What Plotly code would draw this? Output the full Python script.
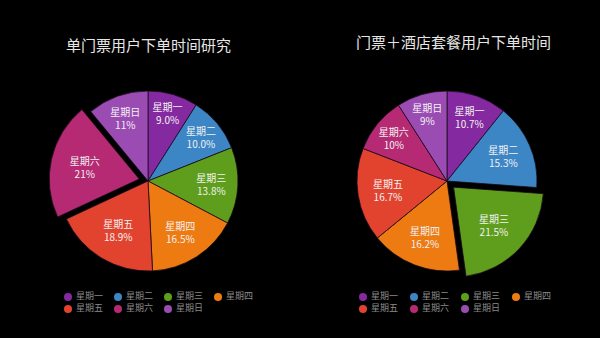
import plotly.graph_objects as go

days = ["星期一", "星期二", "星期三", "星期四", "星期五", "星期六", "星期日"]
colors = ["#8429A0", "#3D86C6", "#5E9E1C", "#EE7A12", "#E2432F", "#B52A72", "#9A4CB3"]

left_title = "单门票用户下单时间研究"
left_values = [9.0, 10.0, 13.8, 16.5, 18.9, 21, 11]
left_text = ["9.0%", "10.0%", "13.8%", "16.5%", "18.9%", "21%", "11%"]
left_pull = [0, 0, 0, 0, 0, 0.1, 0]

right_title = "门票＋酒店套餐用户下单时间"
right_values = [10.7, 15.3, 21.5, 16.2, 16.7, 10, 9]
right_text = ["10.7%", "15.3%", "21.5%", "16.2%", "16.7%", "10%", "9%"]
right_pull = [0, 0, 0.1, 0, 0, 0, 0]

W, H = 600, 338
FONT = "Noto Sans CJK SC"

fig = go.Figure()

def add_pie(values, text, pull, xdom, ydom):
    fig.add_trace(go.Pie(
        labels=days, values=values, text=text, pull=pull,
        sort=False, direction="clockwise", rotation=0,
        marker=dict(colors=colors, line=dict(color="#1a0a1a", width=0.8)),
        texttemplate="%{label}<br>%{text}", textposition="inside",
        insidetextorientation="horizontal",
        textfont=dict(color="#f2f2f2", size=10, family=FONT),
        domain=dict(x=xdom, y=ydom), showlegend=False, hoverinfo="label+value",
    ))

add_pie(left_values, left_text, left_pull, [49 / W, 247 / W], [1 - 280 / H, 1 - 82 / H])
add_pie(right_values, right_text, right_pull, [348 / W, 546 / W], [1 - 280 / H, 1 - 82 / H])

# custom legends: circles in a 4-column grid, one grid per pie
per_row = 4
col_idx = [i % per_row for i in range(len(days))]
row_idx = [i // per_row for i in range(len(days))]
for axis in ["x", "x2"]:
    fig.add_trace(go.Scatter(
        x=col_idx, y=row_idx, mode="markers+text",
        text=["\u00a0" + d for d in days], textposition="middle right",
        textfont=dict(color="#8a8a8a", size=9, family=FONT),
        marker=dict(symbol="circle", size=8, color=colors),
        xaxis=axis, yaxis="y", cliponaxis=False, showlegend=False, hoverinfo="skip",
    ))

hidden = dict(visible=False, fixedrange=True)
fig.update_layout(
    width=W, height=H,
    margin=dict(l=0, r=0, t=0, b=0),
    paper_bgcolor="#000000", plot_bgcolor="rgba(0,0,0,0)",
    xaxis=dict(domain=[68 / W, 218 / W], range=[0, per_row - 1], **hidden),
    xaxis2=dict(domain=[363 / W, 516 / W], range=[0, per_row - 1], anchor="y", **hidden),
    yaxis=dict(domain=[1 - 309 / H, 1 - 297 / H], range=[1, 0], **hidden),
    uniformtext=dict(minsize=10, mode="show"),
    annotations=[
        dict(text=left_title, x=148 / W, y=1 - 44 / H, xref="paper", yref="paper",
             xanchor="center", yanchor="middle", showarrow=False,
             font=dict(color="#e6e6e6", size=15, family=FONT)),
        dict(text=right_title, x=453 / W, y=1 - 42 / H, xref="paper", yref="paper",
             xanchor="center", yanchor="middle", showarrow=False,
             font=dict(color="#e6e6e6", size=15, family=FONT)),
    ],
)

fig.write_html("out.html")
